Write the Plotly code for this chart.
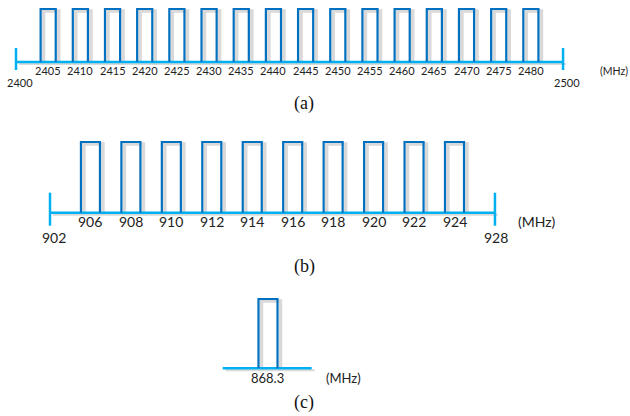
import plotly.graph_objects as go

# ---- data ----
ch_24 = [2405, 2410, 2415, 2420, 2425, 2430, 2435, 2440,
         2445, 2450, 2455, 2460, 2465, 2470, 2475, 2480]
band_24 = [2400, 2500]
ch_915 = [906, 908, 910, 912, 914, 916, 918, 920, 922, 924]
band_915 = [902, 928]
ch_868 = [868.3]
unit_label = "(MHz)"
panel_labels = ["(a)", "(b)", "(c)"]

# ---- style ----
W, H = 630, 416
BOX = "#0070C0"
BASE = "#00B0F0"
SHADOW = "#D9D9D9"
FONT = "Lato"
SERIF = "Liberation Serif"
HW = 0.235  # half width of a channel box (axis units)

fig = go.Figure()


def axis_layout(x0px, pxu, ybase, pyu, top, bottom):
    xa = dict(domain=[0, 1], range=[-x0px / pxu, (W - x0px) / pxu],
              visible=False, fixedrange=True)
    ya = dict(domain=[1 - bottom / H, 1 - top / H],
              range=[-(bottom - ybase) / pyu, (ybase - top) / pyu],
              visible=False, fixedrange=True)
    return xa, ya, pxu, pyu


def add_panel(k, centers, base_span, ticks, pxu, pyu, tick_len):
    xr, yr = ("x" if k == 1 else f"x{k}"), ("y" if k == 1 else f"y{k}")
    dx, dy = 3 / pxu, 2 / pyu
    sx, sy, bx, by = [], [], [], []
    for c in centers:
        sx += [c - HW + dx, c - HW + dx, c + HW + dx, c + HW + dx, None]
        sy += [0 - dy, 1 - dy, 1 - dy, 0 - dy, None]
        bx += [c - HW, c - HW, c + HW, c + HW, None]
        by += [0, 1, 1, 0, None]
    # shadows
    fig.add_trace(go.Scatter(x=sx, y=sy, mode="lines", xaxis=xr, yaxis=yr,
                             line=dict(color=SHADOW, width=3.5), hoverinfo="skip"))
    fig.add_trace(go.Scatter(x=[base_span[0] + dx, base_span[1] + dx],
                             y=[-dy, -dy], mode="lines", xaxis=xr, yaxis=yr,
                             line=dict(color=SHADOW, width=2), hoverinfo="skip"))
    # baseline
    fig.add_trace(go.Scatter(x=list(base_span), y=[0, 0], mode="lines",
                             xaxis=xr, yaxis=yr,
                             line=dict(color=BASE, width=2.5), hoverinfo="skip"))
    # end ticks
    tx, ty = [], []
    for t in ticks:
        tx += [t, t, None]
        ty += [tick_len[0], tick_len[1], None]
    if tx:
        fig.add_trace(go.Scatter(x=tx, y=ty, mode="lines", xaxis=xr, yaxis=yr,
                                 line=dict(color=BASE, width=2.5), hoverinfo="skip"))
    # boxes
    fig.add_trace(go.Scatter(x=bx, y=by, mode="lines", xaxis=xr, yaxis=yr,
                             line=dict(color=BOX, width=2.2), hoverinfo="skip"))
    return xr, yr


annotations = []


def label(text, xr, yr, x, y, size, xshift=0, yshift=0, font=FONT):
    annotations.append(dict(text=text, xref=xr, yref=yr, x=x, y=y,
                            showarrow=False, xanchor="center", yanchor="middle",
                            xshift=xshift, yshift=yshift,
                            font=dict(family=font, size=size, color="#222")))


# ---- panel (a) ----
xa1, ya1, px1, py1 = axis_layout(16, 32.18, 62, 53, 0, 104)
n1 = len(ch_24)
pos1 = list(range(1, n1 + 1))
xr, yr = add_panel(1, pos1, (0, n1 + 1), [0, n1 + 1], px1, py1,
                   (14 / py1, -8 / py1))
for p, f in zip(pos1, ch_24):
    label(str(f), xr, yr, p, 0, 11, yshift=-8.5)
label(str(band_24[0]), xr, yr, 0, 0, 11, xshift=4, yshift=-20)
label(str(band_24[1]), xr, yr, n1 + 1, 0, 11, xshift=4, yshift=-20)
label(unit_label, xr, yr, n1 + 1, 0, 10.5, xshift=51, yshift=-8.5)

# ---- panel (b) ----
xa2, ya2, px2, py2 = axis_layout(50, 40.45, 212.7, 70.7, 120, 250)
n2 = len(ch_915)
pos2 = list(range(1, n2 + 1))
xr, yr = add_panel(2, pos2, (0, n2 + 1), [0, n2 + 1], px2, py2,
                   (20 / py2, -13 / py2))
for p, f in zip(pos2, ch_915):
    label(str(f), xr, yr, p, 0, 14, yshift=-8.5)
label(str(band_915[0]), xr, yr, 0, 0, 14, xshift=4, yshift=-25)
label(str(band_915[1]), xr, yr, n2 + 1, 0, 14, xshift=1, yshift=-25)
label(unit_label, xr, yr, n2 + 1, 0, 14, xshift=42, yshift=-8.5)

# ---- panel (c) ----
xa3, ya3, px3, py3 = axis_layout(268, 40.45, 368.3, 69.3, 280, 416)
pos3 = [0]
xr, yr = add_panel(3, pos3, (-1.12, 1.08), [], px3, py3, (0, 0))
label(str(ch_868[0]), xr, yr, 0, 0, 13, xshift=-1, yshift=-9.5)
label(unit_label, xr, yr, 0, 0, 13, xshift=75, yshift=-9.5)

# ---- panel captions ----
for txt, ypx in zip(panel_labels, [103, 266, 402]):
    annotations.append(dict(text=txt, xref="paper", yref="paper",
                            x=304 / W, y=1 - ypx / H, showarrow=False,
                            xanchor="center", yanchor="middle",
                            font=dict(family=SERIF, size=18, color="#111")))

fig.update_layout(
    width=W, height=H,
    margin=dict(l=0, r=0, t=0, b=0),
    paper_bgcolor="white", plot_bgcolor="white",
    showlegend=False,
    xaxis=xa1, yaxis=ya1,
    xaxis2=xa2, yaxis2=ya2,
    xaxis3=xa3, yaxis3=ya3,
    annotations=annotations,
)

fig.write_html("out.html",
               config={"displayModeBar": False},
               post_script="document.body.style.margin='0';"
                           "document.body.style.padding='0';"
                           "document.body.style.overflow='hidden';")
